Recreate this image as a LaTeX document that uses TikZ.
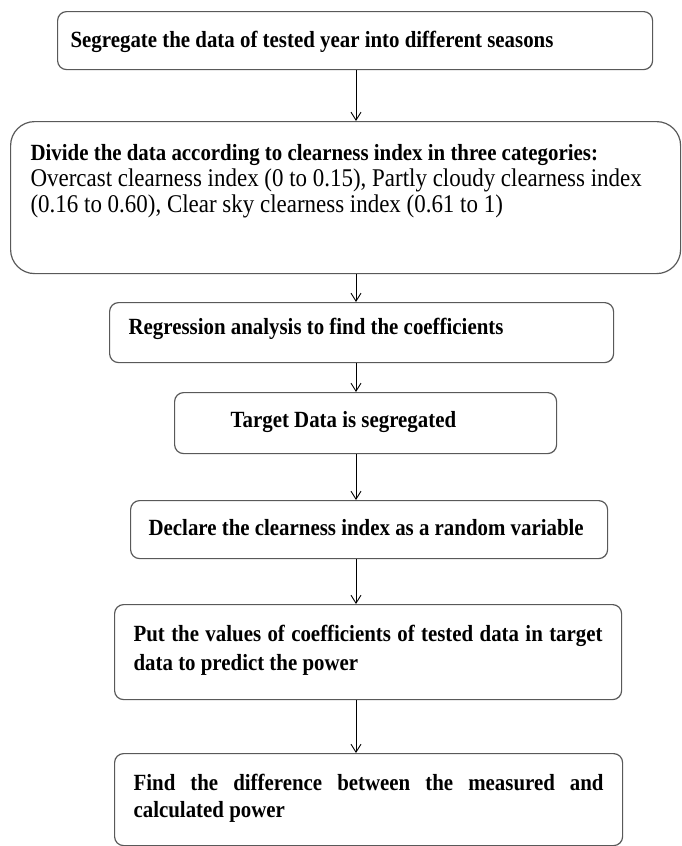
\documentclass[tikz,border=0pt]{standalone}
\usepackage{fontspec}
\setmainfont[FakeStretch=0.9]{Liberation Serif}
\usetikzlibrary{arrows.meta}

\tikzset{
  stepbox/.style={draw=black!65, line width=1.2pt, rounded corners=9pt,
    anchor=north west, inner ysep=0pt,
    font=\bfseries\fontsize{23.2}{27}\selectfont},
  flow/.style={-{Straight Barb[length=8pt,width=10pt]}, line width=0.9pt},
}
\newcommand{\plaintext}{\normalfont\fontsize{25.5}{26}\selectfont}

\begin{document}
\begin{tikzpicture}[x=1pt, y=-1pt]
            \useasboundingbox (0,0) rectangle (681,846);
            \coordinate (spine) at (356,0);
            \node[stepbox, inner xsep=13pt] (seasons) at (57,11)
                {\parbox[t][58pt][t]{569pt}{\vspace*{20pt}%
                Segregate the data of tested year into different seasons}};
            \node[stepbox, rounded corners=24pt, inner xsep=20pt] (clearness) at (10,121)
                {\parbox[t][152pt][t]{630pt}{\raggedright\baselineskip=26pt\vspace*{23pt}%
                Divide the data according to clearness index in three categories:\\
                {\plaintext Overcast clearness index (0 to 0.15), Partly cloudy clearness index}\\
                {\plaintext (0.16 to 0.60), Clear sky clearness index (0.61 to 1)}}};
            \node[stepbox, inner xsep=19pt] (regression) at (109,302)
                {\parbox[t][60pt][t]{466pt}{\vspace*{16pt}%
                Regression analysis to find the coefficients}};
            \node[stepbox, inner xsep=56pt] (target) at (174,392)
                {\parbox[t][61pt][t]{270pt}{\vspace*{19pt}%
                Target Data is segregated}};
            \node[stepbox, inner xsep=18pt] (random) at (130,500)
                {\parbox[t][58pt][t]{441pt}{\vspace*{19pt}%
                Declare the clearness index as a random variable}};
            \node[stepbox, inner xsep=19pt] (predict) at (114,604)
                {\parbox[t][95pt][t]{469pt}{\baselineskip=29pt\vspace*{21pt}%
                Put the values of coefficients of tested data in target\linebreak
                data to predict the power}};
            \node[stepbox, inner xsep=19pt] (difference) at (114,753)
                {\parbox[t][92pt][t]{470pt}{\vspace*{21pt}%
                Find the difference between the measured and\linebreak
                calculated power}};
            % arrows all run down the same vertical line
            \draw[flow] (seasons.south -| spine) -- (clearness.north -| spine);
            \draw[flow] (clearness.south -| spine) -- (regression.north -| spine);
            \draw[flow] (regression.south -| spine) -- (target.north -| spine);
            \draw[flow] (target.south -| spine) -- (random.north -| spine);
            \draw[flow] (random.south -| spine) -- (predict.north -| spine);
            \draw[flow] (predict.south -| spine) -- (difference.north -| spine);
        \end{tikzpicture}
\end{document}
